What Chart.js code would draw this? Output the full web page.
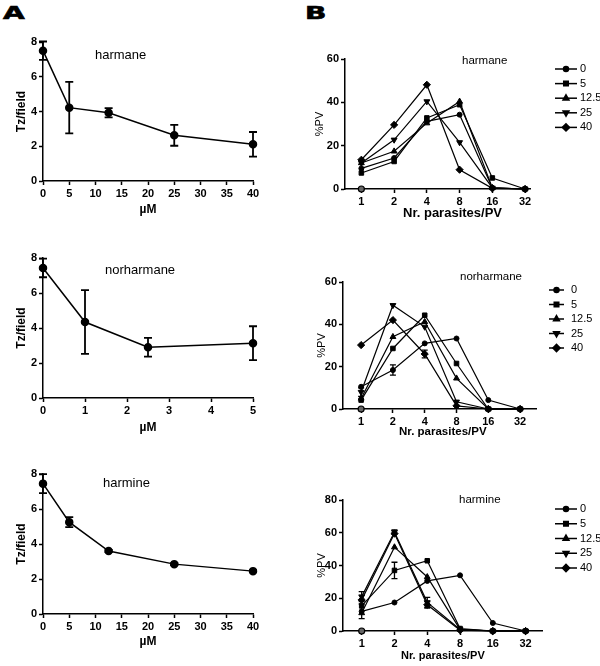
<!DOCTYPE html>
<html>
<head>
<meta charset="utf-8">
<script src="https://cdn.jsdelivr.net/npm/chart.js@4.4.0/dist/chart.umd.min.js"></script>
<style>
  body { margin: 0; background: #fff; font-family: "Liberation Sans", Arial, sans-serif; }
  #fig { position: relative; width: 600px; height: 666px; overflow: hidden; }
  canvas { position: absolute; }
  .lbl { position: absolute; color: #000; white-space: nowrap; line-height: 1; }
  .xt { font-weight: bold; }
  .letter { position: absolute; font-family: "DejaVu Sans", sans-serif; font-weight: bold; font-size: 17px; line-height: 1;
            transform: scaleX(1.65); transform-origin: left top; -webkit-text-stroke: 0.6px #000; }
</style>
</head>
<body>
<div id="fig">
  <div class="letter" style="left:3px;top:5px">A</div>
  <div class="letter" style="left:305px;top:5px">B</div>
  <canvas id="a1" width="300" height="190" style="left:0;top:30px"></canvas>
  <canvas id="a2" width="300" height="190" style="left:0;top:246px"></canvas>
  <canvas id="a3" width="300" height="198" style="left:0;top:462px"></canvas>
  <canvas id="b1" width="300" height="185" style="left:300px;top:40px"></canvas>
  <canvas id="b2" width="300" height="183" style="left:300px;top:262px"></canvas>
  <canvas id="b3" width="300" height="183" style="left:300px;top:483px"></canvas>
  <div class="lbl" style="left:95px;top:48px;font-size:13px">harmane</div>
  <div class="lbl" style="left:105px;top:263px;font-size:13px">norharmane</div>
  <div class="lbl" style="left:103px;top:476px;font-size:13px">harmine</div>
  <div class="lbl" style="left:462px;top:55px;font-size:11.5px">harmane</div>
  <div class="lbl" style="left:460px;top:271px;font-size:11.5px">norharmane</div>
  <div class="lbl" style="left:459px;top:494px;font-size:11.5px">harmine</div>
  <div class="lbl xt" style="left:403px;top:206px;font-size:13px">Nr. parasites/PV</div>
  <div class="lbl xt" style="left:399px;top:426px;font-size:11.5px">Nr. parasites/PV</div>
  <div class="lbl xt" style="left:401px;top:650px;font-size:11px">Nr. parasites/PV</div>
</div>
<script>
// panel A: trypomastigotes per field vs concentration
const concHarmane = [0, 5, 12.5, 25, 40];
const tzHarmane = [7.5, 4.22, 3.93, 2.63, 2.11];
const tzHarmaneErr = [0.53, 1.48, 0.27, 0.6, 0.71];

const concNorharmane = [0, 1, 2.5, 5];
const tzNorharmane = [7.43, 4.34, 2.9, 3.13];
const tzNorharmaneErr = [0.53, 1.82, 0.54, 0.97];

const concHarmine = [0, 5, 12.5, 25, 40];
const tzHarmine = [7.45, 5.25, 3.6, 2.85, 2.45];
const tzHarmineErr = [0.54, 0.29, 0.06, 0.06, 0.06];

// panel B: % of PV with N parasites
const pvCats = ["1", "2", "4", "8", "16", "32"];
const doseLabels = ["0", "5", "12.5", "25", "40"];

const pvHarmane = [
  [9.5, 14.3, 31.2, 34.3, 0.5, 0],
  [7.4, 12.7, 32.8, 38.9, 5.1, 0],
  [12, 17.4, 30.4, 40.4, 0.5, 0],
  [12, 22.7, 40.4, 21.5, 0.5, 0],
  [13.5, 29.6, 48.1, 8.9, 0.3, 0]
];
const pvHarmaneErr = [
  [0, 0, 0, 0, 0, 0],
  [0, 0, 0, 0, 0, 0],
  [0, 0, 0, 0, 0, 0],
  [0, 0, 0, 0, 0, 0],
  [0, 0, 0, 0, 0, 0]
];

const pvNorharmane = [
  [10.5, 18.4, 31, 33.3, 4.2, 0],
  [4.2, 28.6, 44.3, 21.5, 0, 0],
  [5, 34.1, 41.2, 14.5, 0, 0],
  [8, 49, 38.8, 3.4, 0, 0],
  [30.2, 42, 26, 1.5, 0, 0]
];
const pvNorharmaneErr = [
  [0, 2.4, 0, 0, 0, 0],
  [0, 0, 0, 0, 0, 0],
  [0, 0, 0, 0, 0, 0],
  [2, 0, 0, 0, 0, 0],
  [0, 0, 1.8, 0, 0, 0]
];

const pvHarmine = [
  [12, 17.4, 30.6, 34, 4.9, 0],
  [15.3, 37, 42.9, 1.5, 0, 0],
  [11, 51.2, 33, 1, 0, 0],
  [21, 60.4, 17.5, 1, 0, 0],
  [19, 59.5, 16, 0.5, 0, 0]
];
const pvHarmineErr = [
  [4.5, 0, 0, 0, 0, 0],
  [0, 5, 0, 0, 0, 0],
  [0, 0, 0, 0, 0, 0],
  [3, 1.3, 3, 0, 0, 0],
  [0, 0, 2, 0, 0, 0]
];

// lone marker sitting on the baseline at "1" in every B panel
const pvBaseline = [0, null, null, null, null, null];

const markers = [
  { style: "circle", radius: 2.5, rot: 0 },
  { style: "rect", radius: 3.2, rot: 0 },
  { style: "triangle", radius: 3.4, rot: 0 },
  { style: "triangle", radius: 3.4, rot: 180 },
  { style: "rectRot", radius: 3.6, rot: 0 }
];

Chart.defaults.font.family = '"Liberation Sans", Arial, sans-serif';
Chart.defaults.color = "#000";
Chart.defaults.animation = false;

const errorBars = {
  id: "errorBars",
  afterDatasetsDraw(chart) {
    const ctx = chart.ctx;
    const yScale = chart.scales.y;
    chart.data.datasets.forEach((ds, di) => {
      if (!ds.errs) return;
      const meta = chart.getDatasetMeta(di);
      meta.data.forEach((pt, i) => {
        const e = ds.errs[i];
        if (!e) return;
        const v = ds.data[i].y;
        const top = yScale.getPixelForValue(v + e);
        const bot = yScale.getPixelForValue(v - e);
        const cap = ds.capHalf;
        ctx.save();
        ctx.strokeStyle = "#000";
        ctx.lineWidth = ds.errWidth;
        ctx.beginPath();
        ctx.moveTo(pt.x, top); ctx.lineTo(pt.x, bot);
        ctx.moveTo(pt.x - cap, top); ctx.lineTo(pt.x + cap, top);
        ctx.moveTo(pt.x - cap, bot); ctx.lineTo(pt.x + cap, bot);
        ctx.stroke();
        ctx.restore();
      });
    });
  }
};

function legendPlugin(pos) {
  return {
    id: "pvLegend",
    afterDraw(chart) {
      const ctx = chart.ctx;
      let row = 0;
      chart.data.datasets.forEach(ds => {
        if (!ds.legendText) return;
        const y = pos.y + row * pos.step;
        ctx.save();
        ctx.strokeStyle = "#000";
        ctx.fillStyle = "#000";
        ctx.lineWidth = 1.5;
        ctx.beginPath();
        ctx.moveTo(pos.x, y);
        ctx.lineTo(pos.x + pos.len, y);
        ctx.stroke();
        Chart.helpers.drawPoint(ctx, {
          pointStyle: ds.pointStyle, radius: ds.pointRadius,
          rotation: ds.pointRotation, borderWidth: 1
        }, pos.x + pos.len / 2, y);
        ctx.font = '11px "Liberation Sans", Arial, sans-serif';
        ctx.textBaseline = "middle";
        ctx.fillText(ds.legendText, pos.x + pos.len + pos.gap, y);
        ctx.restore();
        row++;
      });
    }
  };
}

function axisBase() {
  return {
    border: { display: true, color: "#000", width: 1.5 },
    grid: { display: true, drawOnChartArea: false, drawTicks: true, tickLength: 4, tickColor: "#000", tickWidth: 1.5 },
    ticks: { color: "#000", font: { size: 11, weight: "bold" }, padding: 2, autoSkip: false, maxRotation: 0 }
  };
}

// box/area/title positions are in page pixels
function makeChart(id, box, area, titleX, titleY, xOpts, yOpts, datasets, plugins) {
  const xTitleLh = xOpts.titleSize * 1.2;
  const yTitleLh = yOpts.titleSize * 1.2;
  const x = axisBase();
  Object.assign(x, {
    type: "linear", min: xOpts.min, max: xOpts.max,
    afterFit(s) { s.height = box.top + box.height - area.b; },
    title: {
      display: !!xOpts.title, text: xOpts.title, color: "#000",
      font: { size: xOpts.titleSize, weight: "bold" },
      padding: { top: 0, bottom: box.top + box.height - titleY - xTitleLh / 2 }
    }
  });
  Object.assign(x.ticks, { stepSize: xOpts.step, callback: xOpts.cb });
  if (xOpts.afterBuildTicks) x.afterBuildTicks = xOpts.afterBuildTicks;

  const y = axisBase();
  Object.assign(y, {
    min: yOpts.min, max: yOpts.max,
    afterFit(s) { s.width = area.l - box.left; },
    title: {
      display: true, text: yOpts.title, color: "#000",
      font: { size: yOpts.titleSize, weight: yOpts.titleWeight },
      padding: { top: titleX - box.left - yTitleLh / 2, bottom: 0 }
    }
  });
  y.ticks.stepSize = yOpts.step;

  return new Chart(document.getElementById(id), {
    type: "line",
    data: { datasets },
    options: {
      responsive: false,
      layout: { padding: { left: 0, bottom: 0, top: area.t - box.top, right: box.left + box.width - area.r } },
      plugins: { legend: { display: false }, tooltip: { enabled: false } },
      scales: { x, y }
    },
    plugins: [errorBars].concat(plugins || [])
  });
}

function doseDataset(xs, ys, errs) {
  return {
    data: xs.map((c, i) => ({ x: c, y: ys[i] })),
    errs: errs, capHalf: 4, errWidth: 1.8,
    borderColor: "#000", backgroundColor: "#000", borderWidth: 1.5,
    pointRadius: 3.5, pointStyle: "circle", pointBackgroundColor: "#000",
    pointBorderColor: "#000", tension: 0, clip: false
  };
}

function pvDatasets(values, errs) {
  const sets = values.map((vals, s) => ({
    data: pvCats.map((c, i) => ({ x: i, y: vals[i] })),
    errs: errs[s], capHalf: 3, errWidth: 1.3,
    legendText: doseLabels[s],
    borderColor: "#000", backgroundColor: "#000", borderWidth: 1.2,
    pointStyle: markers[s].style, pointRadius: markers[s].radius,
    pointRotation: markers[s].rot, pointBorderWidth: 1,
    pointBackgroundColor: "#000", pointBorderColor: "#000",
    tension: 0, clip: false
  }));
  sets.push({
    data: pvCats.map((c, i) => ({ x: i, y: pvBaseline[i] })),
    showLine: false, pointStyle: "circle", pointRadius: 3,
    pointBackgroundColor: "#666", pointBorderColor: "#000", pointBorderWidth: 1.2, clip: false
  });
  return sets;
}

const aX = (max, step) => ({ min: 0, max: max, step: step, title: "\u00b5M", titleSize: 12 });
const aY = { min: 0, max: 8, step: 2, title: "Tz/field", titleSize: 12, titleWeight: "bold" };

makeChart("a1", { left: 0, top: 30, width: 300, height: 190 }, { l: 43, t: 42, r: 253, b: 181 }, 22, 210,
  aX(40, 5), aY, [doseDataset(concHarmane, tzHarmane, tzHarmaneErr)]);
makeChart("a2", { left: 0, top: 246, width: 300, height: 190 }, { l: 43, t: 258, r: 253, b: 398 }, 22, 428,
  aX(5, 1), aY, [doseDataset(concNorharmane, tzNorharmane, tzNorharmaneErr)]);
makeChart("a3", { left: 0, top: 462, width: 300, height: 198 }, { l: 43, t: 474, r: 253, b: 614 }, 22, 642,
  aX(40, 5), aY, [doseDataset(concHarmine, tzHarmine, tzHarmineErr)]);

// B x-axis titles sit off-centre in the original, so they are page labels above
function bX(min, max) {
  return {
    min: min, max: max, step: 1, title: "", titleSize: 12,
    afterBuildTicks(s) { s.ticks = pvCats.map((c, i) => ({ value: i })); },
    cb: v => pvCats[v]
  };
}
const bY = max => ({ min: 0, max: max, step: 20, title: "%PV", titleSize: 11, titleWeight: "normal" });

makeChart("b1", { left: 300, top: 40, width: 300, height: 185 }, { l: 345, t: 59, r: 530, b: 189 }, 320, 212,
  bX(-0.5, 5.15), bY(60), pvDatasets(pvHarmane, pvHarmaneErr),
  [legendPlugin({ x: 255, y: 29, step: 14.6, len: 22, gap: 3 })]);
makeChart("b2", { left: 300, top: 262, width: 300, height: 183 }, { l: 343, t: 282, r: 536, b: 409 }, 322, 432,
  bX(-0.57, 5.5), bY(60), pvDatasets(pvNorharmane, pvNorharmaneErr),
  [legendPlugin({ x: 249, y: 28, step: 14.5, len: 15, gap: 7 })]);
makeChart("b3", { left: 300, top: 483, width: 300, height: 183 }, { l: 343, t: 500, r: 542, b: 631 }, 322, 656,
  bX(-0.57, 5.5), bY(80), pvDatasets(pvHarmine, pvHarmineErr),
  [legendPlugin({ x: 255, y: 26, step: 14.75, len: 22, gap: 3 })]);
</script>
</body>
</html>
